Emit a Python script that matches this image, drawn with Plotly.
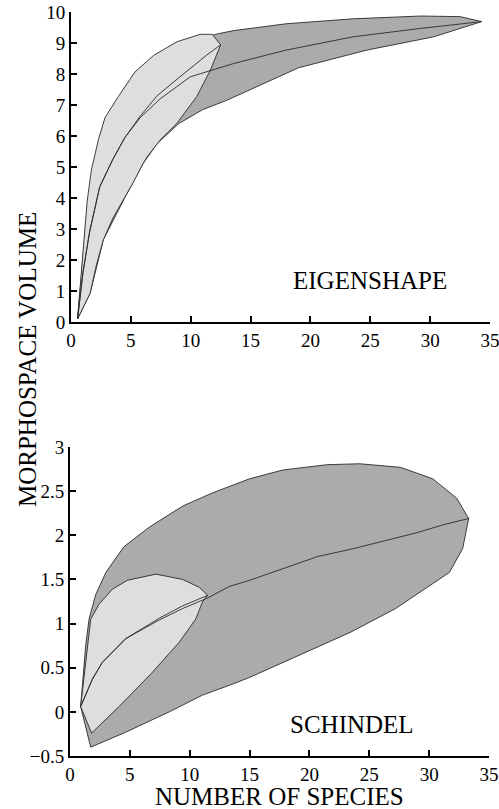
"""Morphospace volume vs number of species: Eigenshape and Schindel envelopes."""

import plotly.graph_objects as go

# --- Eigenshape (top panel) ---
eig_dark_upper_x = [0.55, 1.2, 2.0, 3.0, 5.0, 8.0, 10.5, 12.3, 13.6, 15.0, 17.96, 23.56, 29.2, 32.5, 34.3]
eig_dark_upper_y = [0.1, 3.0, 5.0, 6.4, 7.6, 8.6, 9.1, 9.3, 9.4, 9.47, 9.62, 9.78, 9.87, 9.85, 9.69]
eig_dark_lower_x = [0.55, 1.6, 2.7, 4.4, 6.0, 7.2, 9.0, 11.0, 13.0, 15.0, 19.0, 24.7, 30.3, 34.3]
eig_dark_lower_y = [0.1, 0.93, 2.65, 3.94, 5.1, 5.76, 6.4, 6.85, 7.15, 7.5, 8.2, 8.77, 9.2, 9.69]
eig_dark_median_x = [0.55, 1.0, 1.55, 2.4, 3.5, 4.5, 5.8, 7.45, 9.97, 11.65, 13.6, 17.96, 23.56, 29.2, 34.3]
eig_dark_median_y = [0.1, 1.6, 2.9, 4.36, 5.25, 5.95, 6.6, 7.2, 7.91, 8.1, 8.34, 8.77, 9.2, 9.47, 9.69]

eig_light_upper_x = [0.55, 1.0, 1.35, 1.7, 2.3, 2.85, 3.95, 5.35, 6.9, 8.85, 10.8, 11.8, 12.5]
eig_light_upper_y = [0.1, 2.2, 3.9, 4.9, 5.9, 6.6, 7.27, 8.07, 8.6, 9.04, 9.28, 9.28, 8.94]
eig_light_lower_x = [0.55, 1.0, 1.6, 2.1, 2.7, 3.5, 4.4, 5.2, 6.0, 6.4, 7.45, 8.85, 10.5, 11.65, 12.5]
eig_light_lower_y = [0.1, 0.45, 0.93, 1.8, 2.65, 3.35, 3.94, 4.5, 5.1, 5.35, 5.87, 6.41, 7.27, 8.13, 8.94]
eig_light_median_x = [0.55, 1.0, 1.55, 2.4, 3.5, 4.5, 5.8, 7.2, 8.6, 10.0, 11.3, 12.5]
eig_light_median_y = [0.1, 1.6, 2.9, 4.36, 5.25, 5.95, 6.65, 7.3, 7.75, 8.2, 8.6, 8.94]

# --- Schindel (bottom panel) ---
sch_dark_upper_x = [0.89, 1.31, 1.59, 2.15, 3.0, 4.5, 6.6, 9.4, 11.9, 15.0, 17.8, 21.5, 24.2, 27.6, 30.3, 32.3, 33.3]
sch_dark_upper_y = [0.06, 0.75, 1.05, 1.33, 1.58, 1.87, 2.09, 2.33, 2.48, 2.64, 2.74, 2.80, 2.81, 2.77, 2.64, 2.42, 2.19]
sch_dark_lower_x = [0.89, 1.73, 4.66, 8.29, 11.08, 13.3, 15.0, 19.0, 23.4, 27.2, 29.6, 31.7, 32.8, 33.3]
sch_dark_lower_y = [0.06, -0.40, -0.23, 0.0, 0.19, 0.30, 0.39, 0.63, 0.9, 1.17, 1.39, 1.58, 1.85, 2.19]
sch_dark_median_x = [0.89, 1.87, 2.7, 4.66, 7.45, 9.4, 11.5, 13.3, 15.0, 16.7, 20.7, 23.4, 29.0, 31.2, 33.3]
sch_dark_median_y = [0.06, 0.37, 0.56, 0.83, 1.04, 1.17, 1.29, 1.42, 1.49, 1.57, 1.76, 1.84, 2.03, 2.12, 2.19]

sch_light_upper_x = [0.89, 1.73, 2.43, 3.54, 4.8, 7.18, 9.4, 10.8, 11.5]
sch_light_upper_y = [0.06, 1.05, 1.22, 1.39, 1.49, 1.56, 1.5, 1.41, 1.32]
sch_light_lower_x = [0.89, 1.8, 4.1, 6.9, 9.13, 10.5, 11.08, 11.5]
sch_light_lower_y = [0.06, -0.24, 0.06, 0.45, 0.79, 1.05, 1.25, 1.32]
sch_light_median_x = [0.89, 1.87, 2.7, 4.66, 7.45, 9.4, 11.5]
sch_light_median_y = [0.06, 0.37, 0.56, 0.83, 1.06, 1.2, 1.32]

DARK = "#ababab"
LIGHT = "#dedede"
EDGE = "#2a2a2a"
FONT = "Liberation Serif"

W, H = 499, 809


def px(x):
    return x / W


def py(y):
    return 1 - y / H


def envelope(ux, uy, lx, ly, color, xa, ya):
    return go.Scatter(
        x=list(ux) + list(lx[::-1]),
        y=list(uy) + list(ly[::-1]),
        fill="toself",
        fillcolor=color,
        mode="lines",
        line={"color": EDGE, "width": 0.9},
        xaxis=xa,
        yaxis=ya,
        hoverinfo="skip",
        showlegend=False,
    )


def median(x, y, xa, ya):
    return go.Scatter(
        x=x,
        y=y,
        mode="lines",
        line={"color": EDGE, "width": 0.9},
        xaxis=xa,
        yaxis=ya,
        showlegend=False,
    )


fig = go.Figure()
fig.add_trace(envelope(eig_dark_upper_x, eig_dark_upper_y, eig_dark_lower_x, eig_dark_lower_y, DARK, "x", "y"))
fig.add_trace(envelope(eig_light_upper_x, eig_light_upper_y, eig_light_lower_x, eig_light_lower_y, LIGHT, "x", "y"))
fig.add_trace(median(eig_dark_median_x, eig_dark_median_y, "x", "y"))
fig.add_trace(median(eig_light_median_x, eig_light_median_y, "x", "y"))

fig.add_trace(envelope(sch_dark_upper_x, sch_dark_upper_y, sch_dark_lower_x, sch_dark_lower_y, DARK, "x2", "y2"))
fig.add_trace(envelope(sch_light_upper_x, sch_light_upper_y, sch_light_lower_x, sch_light_lower_y, LIGHT, "x2", "y2"))
fig.add_trace(median(sch_dark_median_x, sch_dark_median_y, "x2", "y2"))
fig.add_trace(median(sch_light_median_x, sch_light_median_y, "x2", "y2"))

axis_style = dict(
    showline=True,
    linecolor="black",
    linewidth=2,
    ticks="inside",
    ticklen=6,
    tickwidth=2,
    tickcolor="black",
    showgrid=False,
    zeroline=False,
    tickfont={"family": FONT, "size": 19, "color": "black"},
    ticklabeloverflow="allow",
    automargin=False,
)

fig.update_layout(
    width=W,
    height=H,
    paper_bgcolor="white",
    plot_bgcolor="white",
    margin={"l": 0, "r": 0, "t": 0, "b": 0},
    xaxis=dict(axis_style, range=[0, 35], dtick=5, domain=[px(71), px(490)], anchor="y"),
    yaxis=dict(axis_style, range=[0, 10], dtick=1, domain=[py(322), py(12)], anchor="x"),
    xaxis2=dict(axis_style, range=[0, 35], dtick=5, domain=[px(70), px(489)], anchor="y2"),
    yaxis2=dict(axis_style, range=[-0.5, 3], dtick=0.5, domain=[py(756), py(447)], anchor="x2"),
)

label_font = {"family": FONT, "size": 25, "color": "black"}
labels = [
    ("EIGENSHAPE", 370, 281, 0),
    ("SCHINDEL", 352, 724, 0),
    ("NUMBER OF SPECIES", 279, 796, 0),
    ("MORPHOSPACE VOLUME", 27, 360, -90),
]
for text, lx, ly, angle in labels:
    fig.add_annotation(text=text, x=px(lx), y=py(ly), xref="paper", yref="paper",
                       xanchor="center", yanchor="middle", textangle=angle,
                       showarrow=False, font=label_font)

# drop the browser's default 8px body margin so the figure fills the window
fig.write_html(
    "out.html",
    config={"displayModeBar": False},
    post_script="document.body.style.margin = '0px';",
)
